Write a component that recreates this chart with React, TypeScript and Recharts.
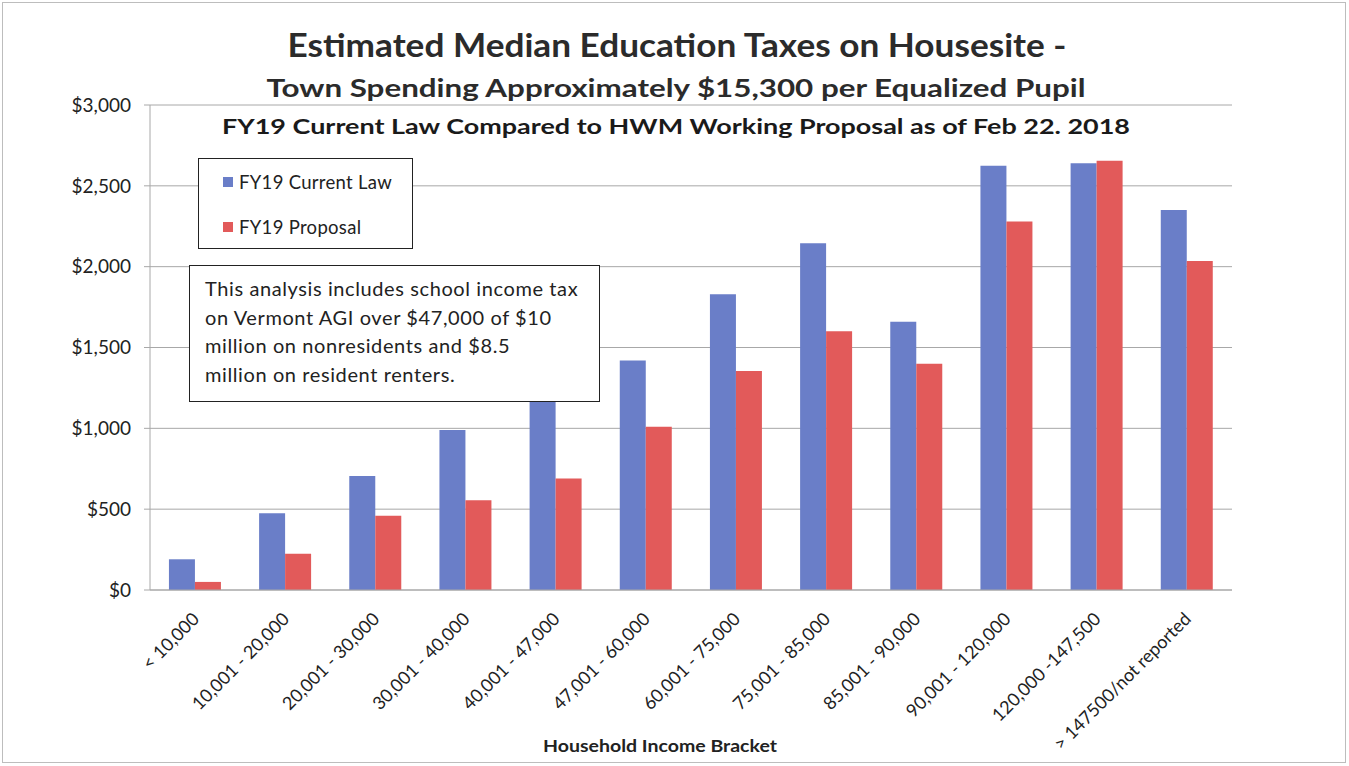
import React from "react";
import { BarChart, Bar, XAxis, YAxis, CartesianGrid } from "recharts";

const categories = [
  "< 10,000",
  "10,001 - 20,000",
  "20,001 - 30,000",
  "30,001 - 40,000",
  "40,001 - 47,000",
  "47,001 - 60,000",
  "60,001 - 75,000",
  "75,001 - 85,000",
  "85,001 - 90,000",
  "90,001 - 120,000",
  "120,000 -147,500",
  "> 147500/not reported",
];
const currentLaw = [190, 475, 705, 990, 1175, 1420, 1830, 2145, 1660, 2625, 2640, 2350];
const proposal = [50, 225, 460, 555, 690, 1010, 1355, 1600, 1400, 2280, 2655, 2035];
const yTicks = [0, 500, 1000, 1500, 2000, 2500, 3000];

const seriesNames = ["FY19 Current Law", "FY19 Proposal"];
const BLUE = "#6a7ec8";
const RED = "#e25a5a";
const FONT = "Lato, 'Open Sans', sans-serif";

const data = categories.map((c, i) => ({
  category: c,
  current: currentLaw[i],
  proposal: proposal[i],
}));

const fmt = (v: number) => "$" + v.toLocaleString("en-US");

const XTick = (props: any) => {
  const { x, y, payload } = props;
  return (
    <g transform={`translate(${x + 2},${y + 19})`}>
      <text
        transform="rotate(-45)"
        textAnchor="end"
        dominantBaseline="middle"
        fontSize={18}
        fill="#222"
        fontFamily={FONT}
      >
        {payload.value}
      </text>
    </g>
  );
};

const LegendBox = () => (
  <div
    style={{
      position: "absolute",
      left: 198,
      top: 158,
      width: 215,
      height: 91,
      boxSizing: "border-box",
      border: "1.5px solid #222",
      background: "#fff",
      fontFamily: FONT,
      fontSize: 18.5,
      letterSpacing: 0.3,
      color: "#222",
    }}
  >
    {[BLUE, RED].map((c, i) => (
      <div
        key={i}
        style={{
          position: "absolute",
          left: 24,
          top: i === 0 ? 12 : 57,
          display: "flex",
          alignItems: "center",
          height: 22,
        }}
      >
        <span style={{ display: "inline-block", width: 10, height: 10, background: c, marginRight: 6 }} />
        <span>{seriesNames[i]}</span>
      </div>
    ))}
  </div>
);

export default function App() {
  return (
    <div
      style={{
        position: "absolute",
        left: 0,
        top: 0,
        width: 1349,
        height: 766,
        background: "#fff",
        fontFamily: FONT,
        overflow: "hidden",
      }}
    >
      <BarChart
        width={1349}
        height={766}
        data={data}
        margin={{ top: 105, right: 117, bottom: 26, left: 0 }}
        barCategoryGap="21%"
        barGap={0}
      >
        <CartesianGrid vertical={false} stroke="#a8a8a8" />
        <XAxis
          dataKey="category"
          interval={0}
          height={150}
          tick={<XTick />}
          tickLine={false}
          axisLine={{ stroke: "#a8a8a8" }}
        />
        <YAxis
          width={150}
          domain={[0, 3000]}
          ticks={yTicks}
          tickFormatter={fmt}
          tick={{ fontSize: 19, fill: "#222", fontFamily: FONT }}
          tickSize={6}
          tickMargin={13}
          tickLine={{ stroke: "#a8a8a8" }}
          axisLine={{ stroke: "#a8a8a8" }}
        />
        <Bar dataKey="current" name={seriesNames[0]} fill={BLUE} isAnimationActive={false} />
        <Bar dataKey="proposal" name={seriesNames[1]} fill={RED} isAnimationActive={false} />
      </BarChart>

      <svg
        width={1349}
        height={766}
        style={{ position: "absolute", left: 0, top: 0, pointerEvents: "none" }}
      >
        <rect x={2.5} y={2.5} width={1343} height={760} fill="none" stroke="#bdbdbd" strokeWidth={1} />
        <text
          x={677}
          y={57}
          textAnchor="middle"
          fontSize={32}
          fontWeight="bold"
          fill="#2b2b2b"
          fontFamily={FONT}
          textLength={779}
          lengthAdjust="spacingAndGlyphs"
        >
          Estimated Median Education Taxes on Housesite -
        </text>
        <text
          x={676}
          y={97}
          textAnchor="middle"
          fontSize={25}
          fontWeight="bold"
          fill="#2b2b2b"
          fontFamily={FONT}
          textLength={819}
          lengthAdjust="spacingAndGlyphs"
        >
          Town Spending Approximately $15,300 per Equalized Pupil
        </text>
        <text
          x={676}
          y={134}
          textAnchor="middle"
          fontSize={21}
          fontWeight="bold"
          fill="#1a1a1a"
          fontFamily={FONT}
          textLength={908}
          lengthAdjust="spacingAndGlyphs"
        >
          FY19 Current Law Compared to HWM Working Proposal as of Feb 22. 2018
        </text>
        <text
          x={660}
          y={752}
          textAnchor="middle"
          fontSize={17}
          fontWeight="bold"
          fill="#222"
          fontFamily={FONT}
          textLength={234}
          lengthAdjust="spacingAndGlyphs"
        >
          Household Income Bracket
        </text>
      </svg>

      <LegendBox />

      <div
        style={{
          position: "absolute",
          left: 189,
          top: 265,
          width: 411,
          height: 137,
          boxSizing: "border-box",
          border: "1.5px solid #222",
          background: "#fff",
          padding: "8px 0 0 15px",
          fontFamily: FONT,
          fontSize: 20,
          letterSpacing: 0.6,
          lineHeight: "28.5px",
          color: "#222",
          whiteSpace: "nowrap",
        }}
      >
        This analysis includes school income tax
        <br />
        on Vermont AGI over $47,000 of $10
        <br />
        million on nonresidents and $8.5
        <br />
        million on resident renters.
      </div>
    </div>
  );
}
